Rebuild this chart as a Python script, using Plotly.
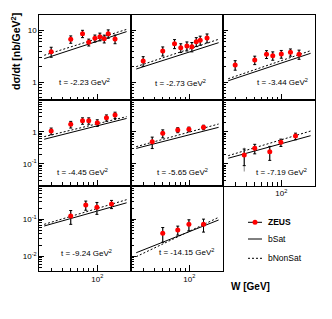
import math
import plotly.graph_objects as go

# ---------------- data ----------------
W_A = [30, 50, 68, 80, 94, 107, 120, 133, 159]
W_B = [30, 50, 68, 80, 100, 127, 159]
W_C = [38, 50, 74, 99, 145]
W_D = [50, 74, 99, 145]

t_values = ["-2.23", "-2.73", "-3.44", "-4.45", "-5.65", "-7.19", "-9.24", "-14.15"]

zeus_223 = [3.88, 6.75, 8.67, 5.9, 7.06, 7.59, 6.93, 8.67, 6.84]
stat_223 = [0.85, 1.1, 1.4, 0.9, 1.1, 1.3, 1.2, 1.6, 1.3]
zeus_273 = [2.56, 4.0, 5.55, 4.64, 5.0, 4.85, 6.07, 6.46, 7.16]
stat_273 = [0.55, 0.8, 1.1, 0.9, 1.0, 1.0, 1.2, 1.3, 1.4]
zeus_344 = [2.15, 2.68, 3.46, 3.25, 3.5, 3.78, 3.46]
stat_344 = [0.45, 0.5, 0.6, 0.6, 0.6, 0.6, 0.7]
zeus_445 = [1.05, 1.70, 2.21, 2.21, 1.91, 2.74, 3.32]
stat_445 = [0.25, 0.4, 0.5, 0.5, 0.45, 0.6, 0.75]
zeus_565 = [0.487, 0.89, 1.13, 1.19, 1.37]
stat_565 = [0.19, 0.25, 0.2, 0.2, 0.22]
zeus_719 = [0.187, 0.303, 0.237, 0.466, 0.73]
stat_719 = [0.10, 0.10, 0.11, 0.12, 0.17]
tot_719 = [0.13, 0.10, 0.11, 0.12, 0.17]
zeus_924 = [0.123, 0.244, 0.211, 0.26]
stat_924 = [0.05, 0.068, 0.075, 0.065]
zeus_1415 = [0.0418, 0.0513, 0.073, 0.073]
stat_1415 = [0.018, 0.014, 0.024, 0.028]

W_model = [25, 215]
bsat_223 = [2.84, 9.5]
bnonsat_223 = [3.31, 10.5]
bsat_273 = [1.79, 5.8]
bnonsat_273 = [1.99, 6.75]
bsat_344 = [1.06, 3.61]
bnonsat_344 = [1.16, 4.06]
bsat_445 = [0.58, 2.6]
bnonsat_445 = [0.70, 2.95]
bsat_565 = [0.30, 1.37]
bnonsat_565 = [0.34, 1.74]
bsat_719 = [0.148, 0.75]
bnonsat_719 = [0.178, 1.05]
bsat_924 = [0.0658, 0.28]
bnonsat_924 = [0.073, 0.34]
bsat_1415 = [0.0124, 0.0957]
bnonsat_1415 = [0.0097, 0.113]

panels = [
    (W_A, zeus_223, stat_223, stat_223, bsat_223, bnonsat_223),
    (W_A, zeus_273, stat_273, stat_273, bsat_273, bnonsat_273),
    (W_B, zeus_344, stat_344, stat_344, bsat_344, bnonsat_344),
    (W_B, zeus_445, stat_445, stat_445, bsat_445, bnonsat_445),
    (W_C, zeus_565, stat_565, stat_565, bsat_565, bnonsat_565),
    (W_C, zeus_719, stat_719, tot_719, bsat_719, bnonsat_719),
    (W_D, zeus_924, stat_924, stat_924, bsat_924, bnonsat_924),
    (W_D, zeus_1415, stat_1415, stat_1415, bsat_1415, bnonsat_1415),
]

y_tick_text = {0.01: "10<sup>-2</sup>", 0.1: "10<sup>-1</sup>", 1: "1", 10: "10"}
x_major = [100]
x_major_text = ["10<sup>2</sup>"]
x_minor = [30, 40, 50, 60, 70, 80, 90]

# ---------------- layout geometry (pixels) ----------------
WIDTH, HEIGHT = 332, 319
col_px = [(39.3, 131.3), (131.3, 223.3), (223.3, 315.3)]
row_px = [(15.0, 100.4), (100.4, 185.8), (185.8, 271.2)]
x_range = [math.log10(22), math.log10(243)]
y_ranges = [[-0.355, 1.300], [-1.691, 0.978], [-2.407, -0.092]]
label_pos = [(56.7, 82), (153.3, 83), (255, 82), (55, 172.3), (155, 171.7),
             (254, 172), (59.3, 253.3), (156.7, 251.7)]

FONT = "Liberation Sans, Arial, sans-serif"


def px(x):
    return x / WIDTH


def py(y):
    return 1 - y / HEIGHT


fig = go.Figure()
layout = dict(width=WIDTH, height=HEIGHT, margin=dict(l=0, r=0, t=0, b=0),
              paper_bgcolor="white", plot_bgcolor="white", showlegend=False,
              font=dict(family=FONT, size=8, color="black"))
annotations = []

y_minor = [m * 10 ** e for e in range(-3, 2) for m in range(2, 10)]
y_major = [0.001, 0.01, 0.1, 1, 10, 100]

for i, (W, vals, stat, tot, bsat, bnon) in enumerate(panels):
    r, c = divmod(i, 3)
    sfx = "" if i == 0 else str(i + 1)
    xa, ya = "x" + sfx, "y" + sfx
    # theory lines
    fig.add_trace(go.Scatter(x=W_model, y=bsat, mode="lines", xaxis=xa, yaxis=ya,
                             line=dict(color="black", width=1), hoverinfo="skip"))
    fig.add_trace(go.Scatter(x=W_model, y=bnon, mode="lines", xaxis=xa, yaxis=ya,
                             line=dict(color="black", width=1, dash="2px,2px"),
                             hoverinfo="skip"))
    # total errors (grey)
    fig.add_trace(go.Scatter(x=W, y=vals, mode="markers", xaxis=xa, yaxis=ya,
                             marker=dict(size=1, color="rgba(0,0,0,0)"),
                             error_y=dict(type="data", array=tot, color="#888888",
                                          thickness=1, width=0)))
    # data with stat errors
    fig.add_trace(go.Scatter(x=W, y=vals, mode="markers", xaxis=xa, yaxis=ya,
                             marker=dict(size=5, color="red"),
                             error_y=dict(type="data", array=stat, color="black",
                                          thickness=1, width=1.5)))
    x0, x1 = col_px[c]
    y0, y1 = row_px[r]
    show_x_labels = (r == 2) or (r == 1 and c == 2)
    show_y_labels = (c == 0)
    yr = y_ranges[r]
    yvals = [v for v in y_major if yr[0] - 1e-9 <= math.log10(v) <= yr[1] + 1e-9]
    layout["xaxis" + sfx] = dict(
        type="log", range=x_range, domain=[px(x0), px(x1)], anchor=ya,
        showgrid=False, zeroline=False, showline=True, linecolor="black",
        linewidth=1, mirror=True, ticks="inside", ticklen=6, tickcolor="black",
        tickwidth=1, tickmode="array", tickvals=x_major, ticktext=x_major_text,
        showticklabels=show_x_labels, tickfont=dict(size=8, family=FONT),
        minor=dict(ticks="inside", ticklen=3.5, tickcolor="black", tickwidth=1,
                   tickmode="array", tickvals=x_minor, showgrid=False),
    )
    layout["yaxis" + sfx] = dict(
        type="log", range=yr, domain=[py(y1), py(y0)], anchor=xa,
        showgrid=False, zeroline=False, showline=True, linecolor="black",
        linewidth=1, mirror=True, ticks="inside", ticklen=5, tickcolor="black",
        tickwidth=1, tickmode="array", tickvals=yvals,
        ticktext=[y_tick_text.get(v, str(v)) for v in yvals],
        showticklabels=show_y_labels, tickfont=dict(size=8, family=FONT),
        minor=dict(ticks="inside", ticklen=3, tickcolor="black", tickwidth=1,
                   tickmode="array", tickvals=y_minor, showgrid=False),
    )
    lx, ly = label_pos[i]
    annotations.append(dict(text="t = " + t_values[i] + " GeV<sup>2</sup>",
                            xref="paper", yref="paper", x=px(lx), y=py(ly),
                            xanchor="left", yanchor="middle", showarrow=False,
                            font=dict(size=8, family=FONT)))

# axis titles
annotations.append(dict(text="<b>dσ/dt [nb/GeV<sup>2</sup>]</b>", xref="paper",
                        yref="paper", x=px(16), y=py(52), textangle=-90,
                        xanchor="center", yanchor="middle", showarrow=False,
                        font=dict(size=10.5, family=FONT)))
annotations.append(dict(text="<b>W [GeV]</b>", xref="paper", yref="paper",
                        x=px(250), y=py(286), xanchor="center", yanchor="middle",
                        showarrow=False, font=dict(size=10, family=FONT)))

# legend (drawn manually)
leg_x0, leg_x1, leg_tx = 248, 262, 266
leg_rows = [("<b>ZEUS</b>", 222.3), ("bSat", 239), ("bNonSat", 258.3)]
shapes = []
for k, (txt, yy) in enumerate(leg_rows):
    annotations.append(dict(text=txt, xref="paper", yref="paper", x=px(leg_tx),
                            y=py(yy), xanchor="left", yanchor="middle",
                            showarrow=False, font=dict(size=8.5, family=FONT)))
    dash = "solid" if k < 2 else "2px,2px"
    shapes.append(dict(type="line", xref="paper", yref="paper", x0=px(leg_x0),
                       x1=px(leg_x1), y0=py(yy), y1=py(yy),
                       line=dict(color="black", width=1, dash=dash)))
cx, cy, rad = 255, 222.3, 2.5
shapes.append(dict(type="circle", xref="paper", yref="paper",
                   x0=px(cx - rad), x1=px(cx + rad), y0=py(cy + rad), y1=py(cy - rad),
                   fillcolor="red", line=dict(color="red", width=0)))

layout["annotations"] = annotations
layout["shapes"] = shapes
fig.update_layout(**layout)
fig.write_html("out.html",
               config={"displayModeBar": False, "staticPlot": True},
               post_script="document.body.style.margin='0px';"
                           "document.body.style.overflow='hidden';")
